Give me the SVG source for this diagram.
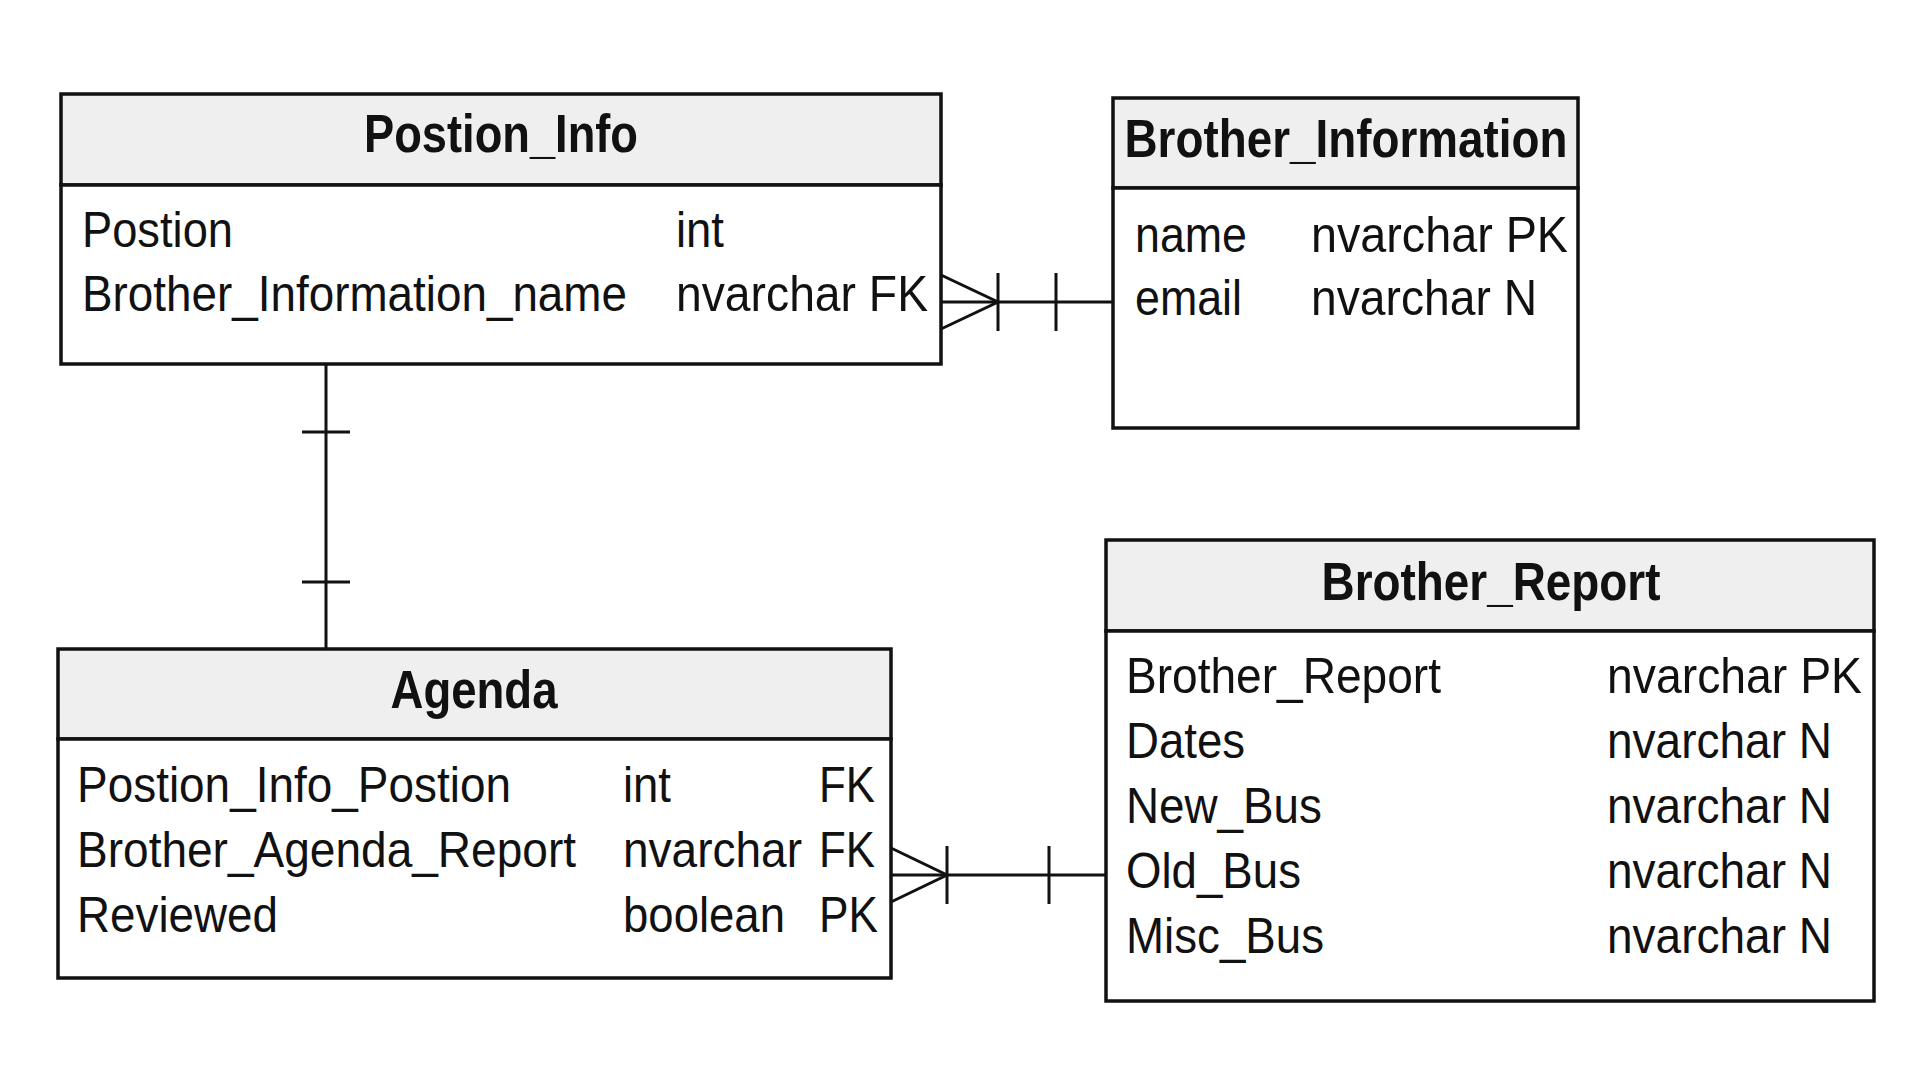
<svg xmlns="http://www.w3.org/2000/svg" width="1920" height="1080" viewBox="0 0 1920 1080">
<style>
.bg{fill:#ffffff}
.hdr{fill:#efefef;stroke:#111;stroke-width:3.5}
.body{fill:#ffffff;stroke:#111;stroke-width:3.5}
.t{font-family:"Liberation Sans",Arial,sans-serif;font-size:50px;fill:#111}
.h{font-family:"Liberation Sans",Arial,sans-serif;font-size:54px;font-weight:bold;fill:#111;text-anchor:middle}
.c{stroke:#111;stroke-width:3;fill:none}
</style>
<rect class="bg" x="0" y="0" width="1920" height="1080"/>
<g id="Postion_Info">
<rect class="hdr" x="61" y="94" width="880" height="91"/>
<rect class="body" x="61" y="185" width="880" height="179"/>
<text class="h" x="501" y="152" textLength="274" lengthAdjust="spacingAndGlyphs">Postion_Info</text>
<text class="t" x="82" y="247" textLength="151" lengthAdjust="spacingAndGlyphs">Postion</text>
<text class="t" x="676" y="247" textLength="48" lengthAdjust="spacingAndGlyphs">int</text>
<text class="t" x="82" y="311" textLength="545" lengthAdjust="spacingAndGlyphs">Brother_Information_name</text>
<text class="t" x="676" y="311" textLength="252" lengthAdjust="spacingAndGlyphs">nvarchar FK</text>
</g>
<g id="Brother_Information">
<rect class="hdr" x="1113" y="98" width="465" height="90"/>
<rect class="body" x="1113" y="188" width="465" height="240"/>
<text class="h" x="1346" y="157" textLength="443" lengthAdjust="spacingAndGlyphs">Brother_Information</text>
<text class="t" x="1135" y="252" textLength="112" lengthAdjust="spacingAndGlyphs">name</text>
<text class="t" x="1311" y="252" textLength="257" lengthAdjust="spacingAndGlyphs">nvarchar PK</text>
<text class="t" x="1135" y="315" textLength="107" lengthAdjust="spacingAndGlyphs">email</text>
<text class="t" x="1311" y="315" textLength="226" lengthAdjust="spacingAndGlyphs">nvarchar N</text>
</g>
<g id="Agenda">
<rect class="hdr" x="58" y="649" width="833" height="90"/>
<rect class="body" x="58" y="739" width="833" height="239"/>
<text class="h" x="474" y="708" textLength="167" lengthAdjust="spacingAndGlyphs">Agenda</text>
<text class="t" x="77" y="802" textLength="434" lengthAdjust="spacingAndGlyphs">Postion_Info_Postion</text>
<text class="t" x="623" y="802" textLength="48" lengthAdjust="spacingAndGlyphs">int</text>
<text class="t" x="819" y="802" textLength="56" lengthAdjust="spacingAndGlyphs">FK</text>
<text class="t" x="77" y="867" textLength="499" lengthAdjust="spacingAndGlyphs">Brother_Agenda_Report</text>
<text class="t" x="623" y="867" textLength="179" lengthAdjust="spacingAndGlyphs">nvarchar</text>
<text class="t" x="819" y="867" textLength="56" lengthAdjust="spacingAndGlyphs">FK</text>
<text class="t" x="77" y="932" textLength="201" lengthAdjust="spacingAndGlyphs">Reviewed</text>
<text class="t" x="623" y="932" textLength="162" lengthAdjust="spacingAndGlyphs">boolean</text>
<text class="t" x="819" y="932" textLength="59" lengthAdjust="spacingAndGlyphs">PK</text>
</g>
<g id="Brother_Report">
<rect class="hdr" x="1106" y="540" width="768" height="91"/>
<rect class="body" x="1106" y="631" width="768" height="370"/>
<text class="h" x="1491" y="600" textLength="339" lengthAdjust="spacingAndGlyphs">Brother_Report</text>
<text class="t" x="1126" y="693" textLength="315" lengthAdjust="spacingAndGlyphs">Brother_Report</text>
<text class="t" x="1607" y="693" textLength="255" lengthAdjust="spacingAndGlyphs">nvarchar PK</text>
<text class="t" x="1126" y="758" textLength="119" lengthAdjust="spacingAndGlyphs">Dates</text>
<text class="t" x="1607" y="758" textLength="225" lengthAdjust="spacingAndGlyphs">nvarchar N</text>
<text class="t" x="1126" y="823" textLength="196" lengthAdjust="spacingAndGlyphs">New_Bus</text>
<text class="t" x="1607" y="823" textLength="225" lengthAdjust="spacingAndGlyphs">nvarchar N</text>
<text class="t" x="1126" y="888" textLength="175" lengthAdjust="spacingAndGlyphs">Old_Bus</text>
<text class="t" x="1607" y="888" textLength="225" lengthAdjust="spacingAndGlyphs">nvarchar N</text>
<text class="t" x="1126" y="953" textLength="198" lengthAdjust="spacingAndGlyphs">Misc_Bus</text>
<text class="t" x="1607" y="953" textLength="225" lengthAdjust="spacingAndGlyphs">nvarchar N</text>
</g>
<g id="connectors">
<path class="c" d="M941,302 H1113"/>
<path class="c" d="M941,275 L998,302 L941,329"/>
<path class="c" d="M998,273 V331 M1056,273 V331"/>
<path class="c" d="M326,364 V649"/>
<path class="c" d="M302,432 H350 M302,582 H350"/>
<path class="c" d="M891,875 H1106"/>
<path class="c" d="M891,848 L947,875 L891,902"/>
<path class="c" d="M947,846 V904 M1049,846 V904"/>
</g>
</svg>
